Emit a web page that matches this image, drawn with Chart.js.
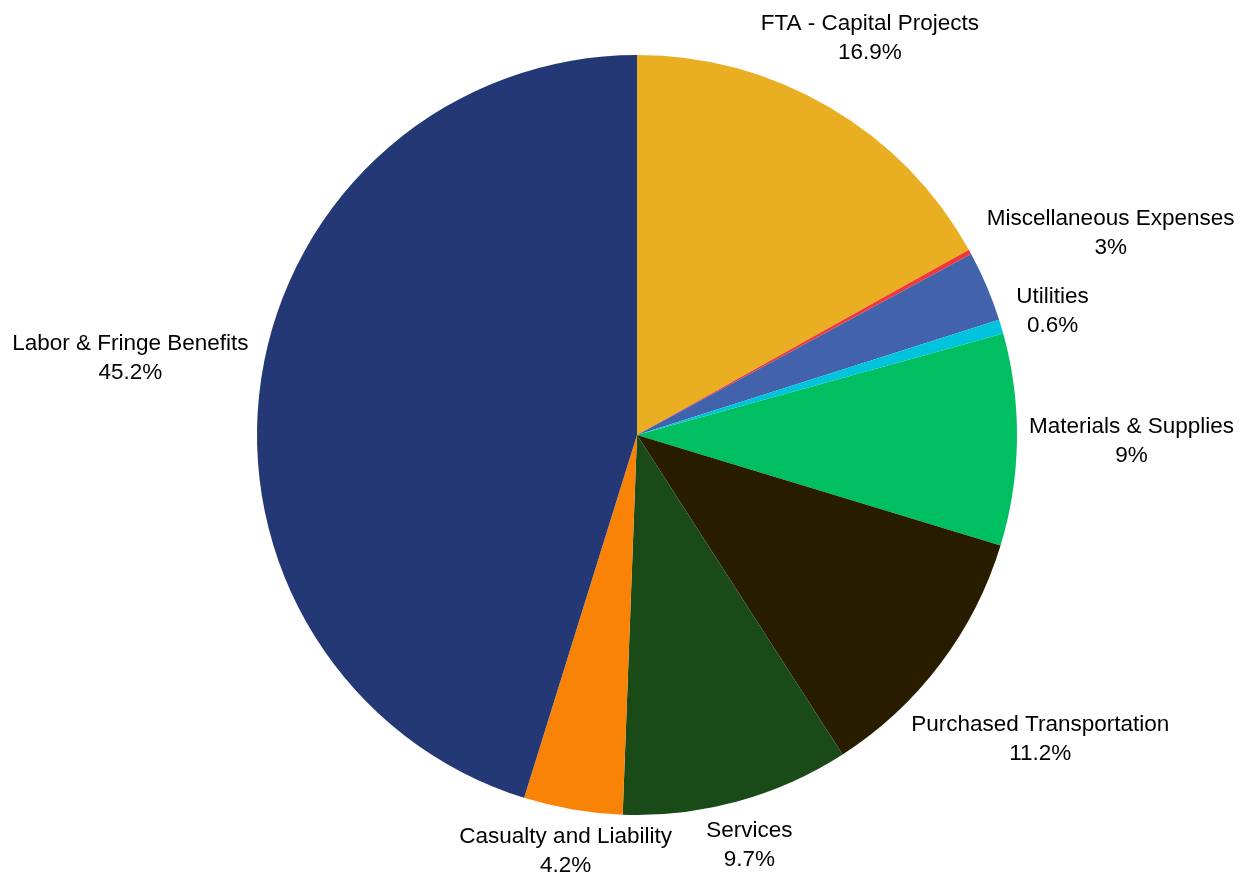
<!DOCTYPE html>
<html>
<head>
<meta charset="utf-8">
<script src="https://cdn.jsdelivr.net/npm/chart.js@4"></script>
<style>
  body { margin: 0; background: #fff; }
  #myChart { display: block; }
</style>
</head>
<body>
<canvas id="myChart" width="1250" height="875"></canvas>
<script>
// slices, clockwise from 12 o'clock
const categories = [
  "FTA - Capital Projects",
  "Other",
  "Miscellaneous Expenses",
  "Utilities",
  "Materials & Supplies",
  "Purchased Transportation",
  "Services",
  "Casualty and Liability",
  "Labor & Fringe Benefits",
];
const shares = [16.9, 0.2, 3, 0.6, 9, 11.2, 9.7, 4.2, 45.2];
const colors = [
  "#E9AE22",
  "#F0383A",
  "#4263AC",
  "#00C4DE",
  "#00BF63",
  "#291D00",
  "#1A4A17",
  "#F98307",
  "#253876",
];

// labels outside the pie, box kept just clear of the rim
const outsideLabels = {
  id: "outsideLabels",
  afterDatasetsDraw(chart) {
    const ctx = chart.ctx;
    const meta = chart.getDatasetMeta(0);
    const fs = 22.5;
    const lh = 29;
    const gap = 12;
    ctx.save();
    ctx.font = fs + "px 'Liberation Sans', Arial, sans-serif";
    ctx.fillStyle = "#000";
    ctx.textAlign = "center";
    ctx.textBaseline = "middle";
    meta.data.forEach(function (arc, i) {
      if (shares[i] < 0.5) return;
      const p = arc.getProps(["x", "y", "startAngle", "endAngle", "outerRadius"]);
      const mid = (p.startAngle + p.endAngle) / 2;
      const dx = Math.cos(mid), dy = Math.sin(mid);
      const line1 = categories[i];
      const line2 = shares[i] + "%";
      const hw = Math.max(ctx.measureText(line1).width, ctx.measureText(line2).width) / 2;
      const hh = lh / 2 + fs * 0.36 + 2;
      const target = p.outerRadius + gap;
      // find distance along the ray where nearest box point sits at target
      let lo = 0, hi = p.outerRadius * 3;
      for (let k = 0; k < 40; k++) {
        const r = (lo + hi) / 2;
        const cx = dx * r, cy = dy * r;
        const nx = Math.max(cx - hw, Math.min(0, cx + hw));
        const ny = Math.max(cy - hh, Math.min(0, cy + hh));
        const d = Math.sqrt(nx * nx + ny * ny);
        if (d < target) lo = r; else hi = r;
      }
      const cx = p.x + dx * lo, cy = p.y + dy * lo;
      ctx.fillText(line1, cx, cy - lh / 2);
      ctx.fillText(line2, cx, cy + lh / 2);
    });
    ctx.restore();
  },
};

const ctx = document.getElementById("myChart");

new Chart(ctx, {
  type: "pie",
  data: {
    labels: categories,
    datasets: [
      {
        data: shares,
        backgroundColor: colors,
        borderWidth: 0,
      },
    ],
  },
  options: {
    responsive: false,
    devicePixelRatio: 1,
    animation: false,
    layout: {
      padding: { top: 55, bottom: 60, left: 24, right: 0 },
    },
    plugins: {
      legend: { display: false },
      tooltip: { enabled: false },
    },
  },
  plugins: [outsideLabels],
});
</script>
</body>
</html>
